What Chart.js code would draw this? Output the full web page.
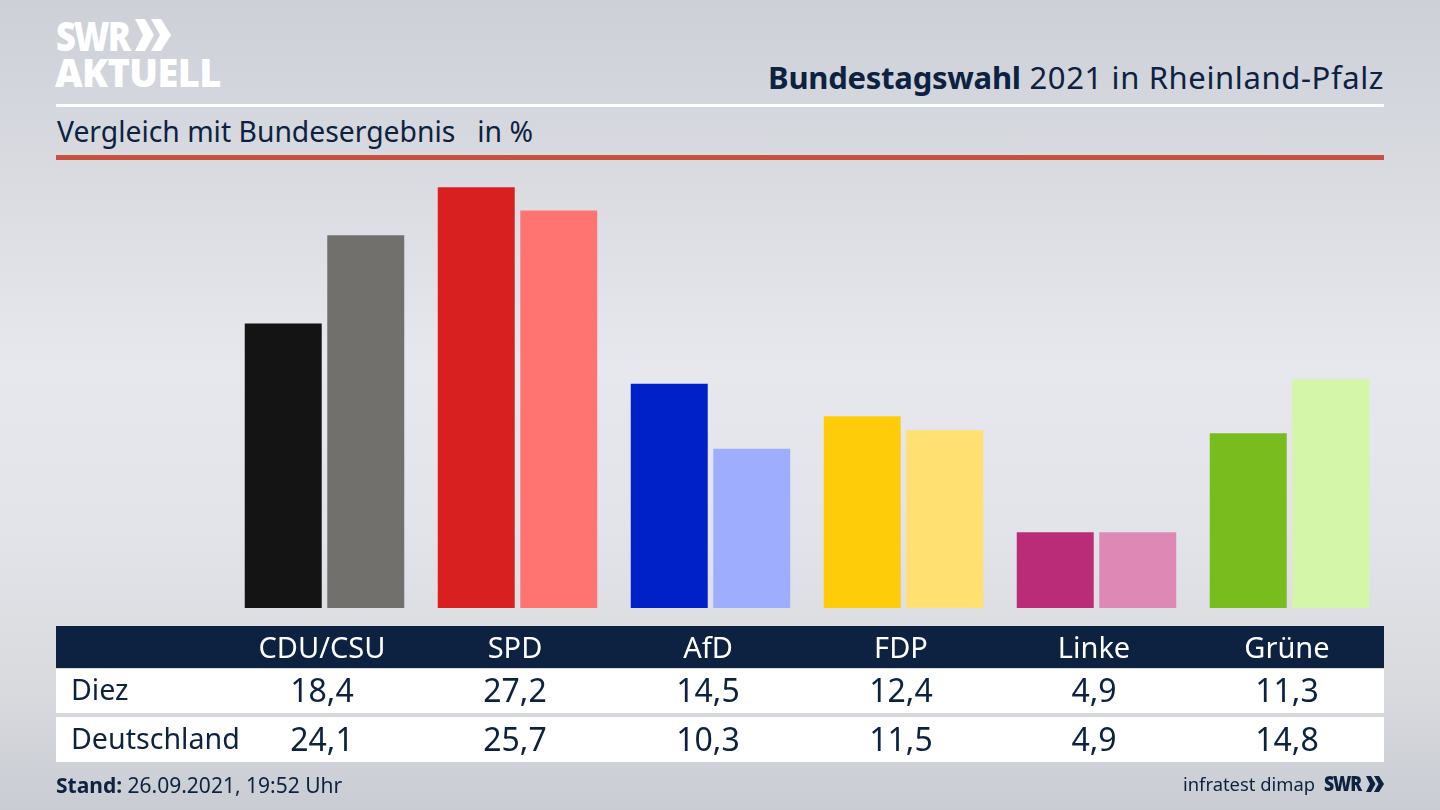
<!DOCTYPE html>
<html lang="de">
<head>
<meta charset="utf-8">
<title>Bundestagswahl 2021 in Rheinland-Pfalz</title>
<script src="https://cdn.jsdelivr.net/npm/chart.js@4/dist/chart.umd.min.js"></script>
<style>
    html, body { margin: 0; padding: 0; }
    body {
        width: 1440px; height: 810px; overflow: hidden; position: relative;
        font-family: "Noto Sans", sans-serif; color: #0c2240;
        background: linear-gradient(180deg, #cdd0d7 0%, #d9dbe1 22%, #e7e8ed 45%, #e3e4e9 65%, #d8dade 85%, #c9ccd3 100%);
    }
    .abs { position: absolute; white-space: nowrap; line-height: 1; }
    .band { position: absolute; left: 56px; width: 1328px; }
    canvas { position: absolute; left: 0; top: 0; }
    .logo { color: #fff; font-family: "Open Sans", sans-serif; font-weight: 800; }
    .schmal { transform-origin: left top; transform: scaleX(0.84); }
    .cell { position: absolute; transform: translateX(-50%); font-size: 32px; white-space: nowrap; line-height: 1; }
    .name { font-size: 28.6px; }
</style>
</head>
<body>
<div class="abs logo schmal" style="left:56px;top:15px;font-size:41px;letter-spacing:-2.4px">SWR</div>
<svg class="abs" style="left:135px;top:19px" width="36" height="32" viewBox="0 0 36 32">
    <path d="M0 0h10l9 16-9 16H0l8-16z M16 0h10l10 16-10 16H16l9-16z" fill="#fff"/>
</svg>
<div class="abs logo" style="left:55px;top:53px;font-size:38px;letter-spacing:-0.6px">AKTUELL</div>

<div class="abs" style="right:56px;top:62px;font-size:31px;letter-spacing:0.62px"><b style="letter-spacing:-0.25px">Bundestagswahl</b> 2021 in Rheinland-Pfalz</div>
<div class="band" style="top:104px;height:3px;background:#fff"></div>
<div class="abs" style="left:57px;top:117px;font-size:28.3px">Vergleich mit Bundesergebnis&nbsp;&nbsp; in %</div>
<div class="band" style="top:155px;height:5px;background:#c8503e"></div>

<div class="band" style="top:626px;height:42px;background:#0c2240"></div>
<div class="band" style="top:669px;height:44px;background:#fff"></div>
<div class="band" style="top:717px;height:45px;background:#fff"></div>

<canvas id="wahlChart" width="1440" height="810"></canvas>
<div id="tabelle"></div>

<div class="abs" style="left:56px;top:775px;font-size:21px"><b>Stand:</b> 26.09.2021, 19:52 Uhr</div>
<div class="abs" style="left:1183px;top:775px;font-size:18.4px">infratest dimap</div>
<div class="abs schmal" style="left:1324px;top:773px;font-size:21px;font-weight:800;font-family:'Open Sans',sans-serif;letter-spacing:-1.3px">SWR</div>
<svg class="abs" style="left:1366px;top:776px" width="18" height="16" viewBox="0 0 36 32">
    <path d="M0 0h10l9 16-9 16H0l8-16z M16 0h10l10 16-10 16H16l9-16z" fill="#0c2240"/>
</svg>

<script>
// 데이터
const parteien = ['CDU/CSU', 'SPD', 'AfD', 'FDP', 'Linke', 'Grüne'];
const diezWerte = [18.4, 27.2, 14.5, 12.4, 4.9, 11.3];
const deutschlandWerte = [24.1, 25.7, 10.3, 11.5, 4.9, 14.8];
const diezFarben = ['#141414', '#d7201f', '#0021c7', '#ffcc0a', '#ba2c78', '#78bc1e'];
const deutschlandFarben = ['#72706d', '#ff7470', '#9fadff', '#ffe070', '#de88b6', '#d4f6a8'];
const zeilen = [
    { name: 'Diez', werte: diezWerte, top: 674 },
    { name: 'Deutschland', werte: deutschlandWerte, top: 723 }
];

const labelVersatz = -2.5;

const chart = new Chart(document.getElementById('wahlChart'), {
    type: 'bar',
    data: {
        labels: parteien,
        datasets: [
            { label: 'Diez', data: diezWerte, backgroundColor: diezFarben },
            { label: 'Deutschland', data: deutschlandWerte, backgroundColor: deutschlandFarben }
        ]
    },
    options: {
        responsive: false,
        animation: false,
        devicePixelRatio: 1,
        categoryPercentage: 0.855,
        barPercentage: 0.933,
        layout: { padding: { left: 228, right: 54, top: 175, bottom: 142 } },
        plugins: { legend: { display: false }, tooltip: { enabled: false } },
        scales: {
            x: {
                grid: { display: false },
                border: { display: false },
                afterFit: scale => { scale.height = 60; },
                ticks: {
                    color: '#ffffff',
                    font: { family: '"Noto Sans", sans-serif', size: 29 },
                    padding: 16,
                    labelOffset: labelVersatz,
                    maxRotation: 0,
                    autoSkip: false
                }
            },
            y: { display: false, min: 0, max: 28 }
        }
    }
});

// 표 만들기
const tabelle = document.getElementById('tabelle');
function addCell(text, left, top, centered) {
    const el = document.createElement('div');
    el.className = centered ? 'cell' : 'cell name';
    el.textContent = text;
    el.style.left = left + 'px';
    el.style.top = top + 'px';
    if (!centered) el.style.transform = 'none';
    tabelle.appendChild(el);
}
zeilen.forEach(zeile => {
    addCell(zeile.name, 71, zeile.top + 1, false);
    zeile.werte.forEach((wert, i) => {
        const x = chart.scales.x.getPixelForValue(i) + labelVersatz;
        addCell(wert.toFixed(1).replace('.', ','), x, zeile.top, true);
    });
});
</script>
</body>
</html>
